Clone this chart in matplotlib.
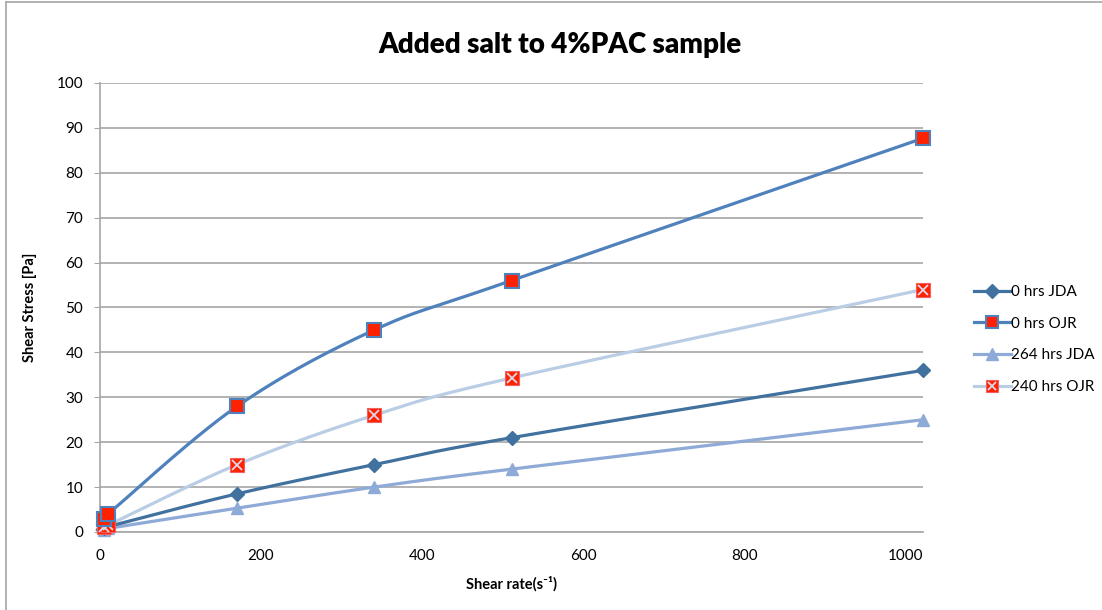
import numpy as np
import matplotlib.pyplot as plt
from matplotlib.lines import Line2D

plt.rcParams['font.family'] = ['Lato', 'DejaVu Sans']

# shear rates (s^-1) from the viscometer speeds
shear_rate = [5.1, 10.2, 170.3, 340.6, 511, 1022]

jda_0 = [0.8, 1.2, 8.5, 15, 21, 36]
ojr_0 = [3, 4, 28, 45, 56, 87.7]
jda_264 = [0.5, 0.8, 5.3, 10, 14, 25]
ojr_240 = [1, 1.5, 15, 26, 34.3, 54]

labels = ['0 hrs JDA', '0 hrs OJR', '264 hrs JDA', '240 hrs OJR']


def smooth(x, y, n=30):
    # Catmull-Rom style bezier through the points (like Excel "smoothed line")
    x = np.asarray(x, float)
    y = np.asarray(y, float)
    px = np.concatenate([[x[0]], x, [x[-1]]])
    py = np.concatenate([[y[0]], y, [y[-1]]])
    xs, ys = [], []
    t = np.linspace(0, 1, n)
    for i in range(1, len(px) - 2):
        p0 = np.array([px[i], py[i]])
        p3 = np.array([px[i + 1], py[i + 1]])
        c1 = p0 + (p3 - np.array([px[i - 1], py[i - 1]])) / 6
        c2 = p3 - (np.array([px[i + 2], py[i + 2]]) - p0) / 6
        b = ((1 - t) ** 3)[:, None] * p0 + (3 * (1 - t) ** 2 * t)[:, None] * c1 \
            + (3 * (1 - t) * t ** 2)[:, None] * c2 + (t ** 3)[:, None] * p3
        xs.append(b[:, 0])
        ys.append(b[:, 1])
    return np.concatenate(xs), np.concatenate(ys)


fig = plt.figure(figsize=(11.02, 6.1), dpi=100)
ax = fig.add_axes([0.0907, 0.1279, 0.747, 0.7361])

c_jda0 = '#41719f'
c_ojr0 = '#4f81bd'
c_jda264 = '#8eaad6'
c_ojr240 = '#b9cde5'
red = '#ff2200'

for y, c in [(jda_264, c_jda264), (ojr_240, c_ojr240), (jda_0, c_jda0), (ojr_0, c_ojr0)]:
    sx, sy = smooth(shear_rate, y)
    ax.plot(sx, sy, color=c, lw=2.3, zorder=3, clip_on=False)

kw = dict(ls='none', clip_on=False)
ax.plot(shear_rate, jda_264, marker='^', ms=9, color=c_jda264, zorder=4, **kw)
ax.plot(shear_rate, jda_0, marker='D', ms=7, color=c_jda0, zorder=4, **kw)
ax.plot(shear_rate, ojr_240, marker='s', ms=10, mfc=red, mec='#f06060', mew=0.8, zorder=4, **kw)
ax.plot(shear_rate, ojr_240, marker='x', ms=7, mec='#d8d8e8', mew=1.3, zorder=5, **kw)
ax.plot(shear_rate, ojr_0, marker='s', ms=10, mfc=red, mec=c_ojr0, mew=1.5, zorder=6, **kw)

ax.set_xlim(0, 1022)
ax.set_ylim(0, 100)
ax.set_xticks(range(0, 1001, 200))
ax.set_yticks(range(0, 101, 10))
ax.grid(axis='y', color='#a6a6a6', lw=1.2)
ax.set_axisbelow(True)
for s in ['top', 'right']:
    ax.spines[s].set_visible(False)
for s in ['left', 'bottom']:
    ax.spines[s].set_color('#a6a6a6')
    ax.spines[s].set_linewidth(1.2)
ax.tick_params(axis='y', length=4, color='#a6a6a6', labelsize=11, pad=8)
ax.tick_params(axis='x', length=0, labelsize=11, pad=12)

fig.text(0.508, 0.927, 'Added salt to 4%PAC sample', fontsize=20, fontweight='heavy',
         ha='center', va='center')
ax.set_xlabel('Shear rate(s⁻¹)', fontsize=10.5, fontweight='bold', labelpad=10)
ax.set_ylabel('Shear Stress [Pa]', fontsize=10.5, fontweight='bold', labelpad=14)

handles = [
    Line2D([], [], color=c_jda0, lw=2.3, marker='D', ms=7),
    Line2D([], [], color=c_ojr0, lw=2.3, marker='s', ms=9, mfc=red, mec=c_ojr0, mew=1.5),
    Line2D([], [], color=c_jda264, lw=2.3, marker='^', ms=9),
    (Line2D([], [], color=c_ojr240, lw=2.3, marker='s', ms=9, mfc=red, mec='#f06060', mew=0.8),
     Line2D([], [], ls='none', marker='x', ms=6, mec='#d8d8e8', mew=1.3)),
]
fig.legend(handles, labels, loc='upper left', bbox_to_anchor=(0.877, 0.545),
           frameon=False, fontsize=11, handlelength=2.4, handletextpad=0.0,
           labelspacing=1.15, borderpad=0)

# chart area border
fig.add_artist(Line2D([0.0055, 0.0055], [0, 0.997], color='#a6a6a6', lw=1.2))
fig.add_artist(Line2D([0.0055, 1], [0.997, 0.997], color='#a6a6a6', lw=1.2))

plt.savefig('out.png', dpi=100)
